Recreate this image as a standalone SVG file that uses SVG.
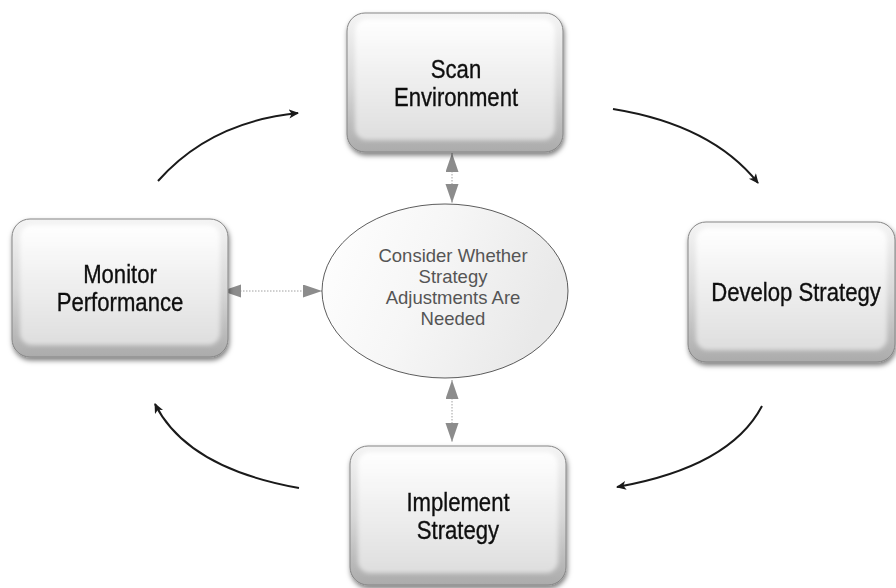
<svg xmlns="http://www.w3.org/2000/svg" width="896" height="588" viewBox="0 0 896 588">
  <defs>
    <linearGradient id="bevel" x1="0" y1="0" x2="0" y2="1">
      <stop offset="0" stop-color="#f4f4f4"/>
      <stop offset="0.5" stop-color="#d8d8d8"/>
      <stop offset="1" stop-color="#ababab"/>
    </linearGradient>
    <linearGradient id="face" x1="0" y1="0" x2="0" y2="1">
      <stop offset="0" stop-color="#ffffff"/>
      <stop offset="1" stop-color="#dedede"/>
    </linearGradient>
    <linearGradient id="oval" x1="0" y1="0" x2="1" y2="0.3">
      <stop offset="0" stop-color="#ffffff"/>
      <stop offset="0.5" stop-color="#f6f6f6"/>
      <stop offset="1" stop-color="#e9e9e9"/>
    </linearGradient>
    <filter id="shadow" x="-10%" y="-10%" width="125%" height="130%">
      <feDropShadow dx="1" dy="3" stdDeviation="2.5" flood-color="#000" flood-opacity="0.5"/>
    </filter>
    <filter id="soft" x="-10%" y="-10%" width="120%" height="120%">
      <feGaussianBlur stdDeviation="2.2"/>
    </filter>
    <marker id="gray-head" markerUnits="userSpaceOnUse" markerWidth="20" markerHeight="14" refX="19" refY="6.5" orient="auto-start-reverse">
      <path d="M0,0 L19,6.5 L0,13 Z" fill="#8c8c8c"/>
    </marker>
    <marker id="black-head" markerUnits="userSpaceOnUse" markerWidth="12" markerHeight="10" refX="9" refY="4.5" orient="auto">
      <path d="M0,0 L10,4.5 L0,9 L2.5,4.5 Z" fill="#1a1a1a"/>
    </marker>
    <style>
      .outer { fill: url(#bevel); stroke: #858585; stroke-width: 1; }
      .inner { fill: url(#face); filter: url(#soft); }
      .lbl { font-family: "Liberation Sans", Arial, sans-serif; font-size: 25px; fill: #111; stroke: #111; stroke-width: 0.35; text-anchor: middle; }
      .mid { font-family: "Liberation Sans", Arial, sans-serif; font-size: 18.5px; fill: #555; text-anchor: middle; }
      .cycle { fill: none; stroke: #1a1a1a; stroke-width: 2; marker-end: url(#black-head); }
      .link { fill: none; stroke: #a0a0a0; stroke-width: 1; stroke-dasharray: 1.5 1.5; marker-start: url(#gray-head); marker-end: url(#gray-head); }
    </style>
  </defs>

  <rect width="896" height="588" fill="#ffffff"/>

  <!-- cycle arrows and links to the centre -->
  <g id="connectors">
    <path class="cycle" d="M158,181 Q210,122 298,113"/>
    <path class="cycle" d="M613,109 Q712,125 758,183"/>
    <path class="cycle" d="M762,406 Q730,467 617,487"/>
    <path class="cycle" d="M299,488 Q187,468 155,404"/>
    <line class="link" x1="452" y1="153" x2="452" y2="203"/>
    <line class="link" x1="452" y1="380" x2="452" y2="442"/>
    <line class="link" x1="222" y1="291" x2="322" y2="291"/>
  </g>

  <g id="scan-environment" filter="url(#shadow)">
    <rect class="outer" x="347" y="13" width="216" height="139" rx="18"/>
    <rect class="inner" x="355" y="19" width="200" height="121" rx="12"/>
    <g transform="translate(456 0) scale(0.885 1)">
      <text class="lbl" x="0" y="78">Scan</text>
      <text class="lbl" x="0" y="106">Environment</text>
    </g>
  </g>

  <g id="develop-strategy" filter="url(#shadow)">
    <rect class="outer" x="688" y="222" width="207" height="140" rx="18"/>
    <rect class="inner" x="696" y="228" width="191" height="122" rx="12"/>
    <g transform="translate(796 0) scale(0.885 1)">
      <text class="lbl" x="0" y="301">Develop Strategy</text>
    </g>
  </g>

  <g id="implement-strategy" filter="url(#shadow)">
    <rect class="outer" x="350" y="446" width="216" height="139" rx="18"/>
    <rect class="inner" x="358" y="452" width="200" height="121" rx="12"/>
    <g transform="translate(458 0) scale(0.885 1)">
      <text class="lbl" x="0" y="511">Implement</text>
      <text class="lbl" x="0" y="539">Strategy</text>
    </g>
  </g>

  <g id="monitor-performance" filter="url(#shadow)">
    <rect class="outer" x="12" y="219" width="216" height="138" rx="18"/>
    <rect class="inner" x="20" y="225" width="200" height="120" rx="12"/>
    <g transform="translate(120 0) scale(0.885 1)">
      <text class="lbl" x="0" y="283">Monitor</text>
      <text class="lbl" x="0" y="311">Performance</text>
    </g>
  </g>

  <g id="consider-adjustments">
    <ellipse cx="445" cy="291" rx="123" ry="87" fill="url(#oval)" stroke="#333" stroke-width="0.8"/>
    <text class="mid" x="453" y="262">Consider Whether</text>
    <text class="mid" x="453" y="283">Strategy</text>
    <text class="mid" x="453" y="304">Adjustments Are</text>
    <text class="mid" x="453" y="325">Needed</text>
  </g>
</svg>
